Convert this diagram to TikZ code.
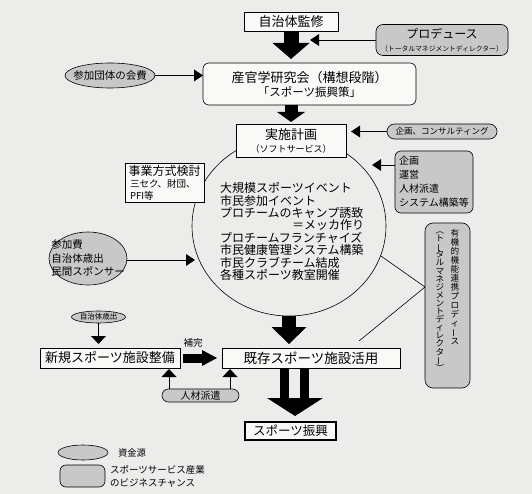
\documentclass[tikz,border=0pt]{standalone}
\usepackage{fontspec}
\setmainfont{Noto Sans CJK JP}
\usetikzlibrary{arrows.meta,shapes.geometric,calc}
\definecolor{bgc}{RGB}{236,236,234}
\definecolor{boxw}{RGB}{249,249,247}
\definecolor{gfill}{RGB}{200,200,200}
\newcommand{\fsz}[2]{\fontsize{#1}{#2}\selectfont}
\newcommand{\vbar}{\rotatebox[origin=c]{90}{ー}}
\tikzset{
  wbox/.style={draw, fill=boxw, line width=0.6pt, inner sep=0pt, align=center},
  gbox/.style={draw, fill=gfill, rounded corners=6pt, line width=0.6pt, inner sep=0pt, align=center},
  gell/.style={draw, ellipse, fill=gfill, inner sep=0pt, line width=0.6pt},
  thinar/.style={line width=0.8pt, -{Triangle[length=9pt,width=12pt,line width=0pt]}},
  upar/.style={line width=0.9pt, -{Triangle[length=8pt,width=15pt,line width=0pt]}},
  fat/.style n args={3}{line width=#1, -{Triangle[length=#2,width=#3,line width=0pt]}},
}
\begin{document}
\begin{tikzpicture}[x=1pt,y=-1pt, every node/.style={inner sep=0pt, outer sep=0pt}]
\fill[bgc] (0,0) rectangle (532,494);
\useasboundingbox (0,0) rectangle (532,494);

% big circle
\node[draw, ellipse, minimum width=194pt, minimum height=180pt, line width=0.6pt] (enk) at (289,226) {};

% top
\node[wbox, minimum width=94pt, minimum height=19pt, font=\fsz{13}{15}] (jichi) at (291,21.5) {自治体監修};
\node[gbox, rounded corners=7pt, minimum width=132pt, minimum height=31pt] (prod) at (442,40)
  {{\fsz{12}{14}プロデュース}\\[1pt]{\fsz{6.8}{8}（トータルマネジメントディレクター）}};
\node[wbox, rounded corners=6pt, minimum width=213pt, minimum height=42pt] (sankan) at (309.5,84)
  {{\fsz{13}{15}産官学研究会（構想段階）}\\[2pt]{\fsz{11.5}{13}「スポーツ振興策」}};
\node[gell, minimum width=90pt, minimum height=25pt, label={[font=\fsz{10.5}{12}]center:参加団体の会費}] (kaihi) at (110,75.5) {};
\node[wbox, minimum width=110pt, minimum height=33pt] (jisshi) at (291,140.5)
  {{\fsz{13}{15}実施計画}\\[1pt]{\fsz{9}{11}（ソフトサービス）}};
\node[gbox, rounded corners=7.5pt, minimum width=110pt, minimum height=15pt, font=\fsz{8.5}{10}] (consult) at (442,131.5) {企画、コンサルティング};
\node[gbox, minimum width=78pt, minimum height=62pt, align=left, font=\fsz{10}{14}] (unei) at (434,182)
  {企画\\運営\\人材派遣\\システム構築等};
\node[wbox, minimum width=79pt, minimum height=39pt, align=left] (jigyo) at (164.5,182.5)
  {{\fsz{12}{13}事業方式検討}\\{\fsz{9.5}{11}\,三セク、財団、}\\{\fsz{9.5}{11}\,PFI等}};
\node[gell, minimum width=78pt, minimum height=53pt,
  label={[align=left, font=\fsz{10.5}{13.5}]center:参加費\\自治体歳出\\民間スポンサー}] (hiyou) at (88,258.5) {};

% circle text
\node[anchor=west, align=left, font=\fsz{12}{12.4}] (ctext) at (220,231.5)
  {大規模スポーツイベント\\市民参加イベント\\プロチームのキャンプ誘致\\\makebox[12em][r]{＝メッカ作り}\\プロチームフランチャイズ\\市民健康管理システム構築\\市民クラブチーム結成\\各種スポーツ教室開催};

% lower part
\node[wbox, minimum width=178pt, minimum height=20pt, font=\fsz{13.5}{15}] (kizon) at (311,358) {既存スポーツ施設活用};
\node[wbox, minimum width=140pt, minimum height=20pt, font=\fsz{13}{15}] (shinki) at (110,358) {新規スポーツ施設整備};
\node[gell, minimum width=54pt, minimum height=12pt, label={[font=\fsz{7.5}{9}]center:自治体歳出}] (zai) at (98.5,317) {};
\node[font=\fsz{9.5}{11}] (hokan) at (193,343) {補完};
\node[gbox, rounded corners=6.5pt, minimum width=77pt, minimum height=13pt, font=\fsz{10}{11}] (jinzai) at (200.5,395.5) {人材派遣};
\node[draw, fill=boxw, line width=2.6pt, minimum width=91pt, minimum height=18pt, font=\fsz{12.5}{14}] (shinko) at (290.5,431) {スポーツ振興};

% vertical box
\node[gbox, rounded corners=8pt, minimum width=45pt, minimum height=165pt] (vert) at (447.5,305.5) {};
\node[anchor=north, align=center, font={\fsz{8.6}{9}\lineskiplimit=-20pt\lineskip=0pt}] (vr) at (455,229)
  {有\\機\\的\\機\\能\\連\\携\\プ\\ロ\\デ\\ィ\\\vbar\\ス};
\node[anchor=north, align=center, font={\fsz{8.6}{8.1}\lineskiplimit=-20pt\lineskip=0pt}] (vl) at (440,232)
  {︵\\ト\\\vbar\\タ\\ル\\マ\\ネ\\ジ\\メ\\ン\\ト\\デ\\ィ\\レ\\ク\\タ\\\vbar\\︶};

% legend
\node[gell, minimum width=50pt, minimum height=15pt] (lg1) at (83,452.5) {};
\node[anchor=west, font=\fsz{9.3}{10}] (lg1t) at (118,452.5) {資金源};
\node[gbox, rounded corners=6pt, minimum width=45pt, minimum height=22pt] (lg2) at (82.5,476) {};
\node[anchor=west, align=left, font=\fsz{9.5}{12.5}] (lg2t) at (110,476.5) {スポーツサービス産業\\のビジネスチャンス};

% connectors
\coordinate (p1) at (310,40);
\draw[thinar] (prod.west) -- (p1);
\draw[thinar] (kaihi.east) -- (kaihi.east -| sankan.west);
\draw[fat={15pt}{16pt}{37pt}, shorten >=4pt] (jichi.south) -- (jichi.south |- sankan.north);
\draw[fat={13pt}{10pt}{28pt}, shorten >=2pt] (sankan.south -| jisshi) -- (jisshi.north);
\draw[thinar, shorten >=5pt] (consult.west) -- (consult.west -| jisshi.east);
\coordinate (t6) at (372,165);
\draw[thinar] (t6 -| unei.west) -- (t6);
\coordinate (t7) at (195,260);
\draw[thinar] (hiyou.east |- t7) -- (t7);
\draw[fat={14pt}{17pt}{35pt}, shorten >=4pt] (enk.south) -- (enk.south |- kizon.north);
\draw[upar, shorten >=4pt] (zai.south) -- (zai.south |- shinki.north);
\draw[fat={9pt}{15pt}{16pt}, shorten >=5pt, shorten <=3pt] (shinki.east) -- (kizon.west);
\coordinate (a1) at (169,0);
\coordinate (a2) at (230,0);
\draw[upar, shorten >=1pt] (jinzai.north -| a1) -- (shinki.south -| a1);
\draw[upar, shorten >=1pt] (jinzai.north -| a2) -- (kizon.south -| a2);
% double arrow
\coordinate (d1) at (284.5,399);
\coordinate (d2) at (304,399);
\coordinate (dh) at (295,398);
\draw[line width=9pt] (kizon.south -| d1) -- (d1);
\draw[line width=9pt] (kizon.south -| d2) -- (d2);
\fill ($(dh)+(-28,0)$) -- ($(dh)+(28,0)$) -- ($(dh)+(0,18)$) -- cycle;
% lines to the producer box
\coordinate (jn) at (425,287);
\coordinate (ke) at (359,341);
\draw[line width=0.6pt] (enk.-18.6) -- (jn) -- (ke);
\end{tikzpicture}
\end{document}
